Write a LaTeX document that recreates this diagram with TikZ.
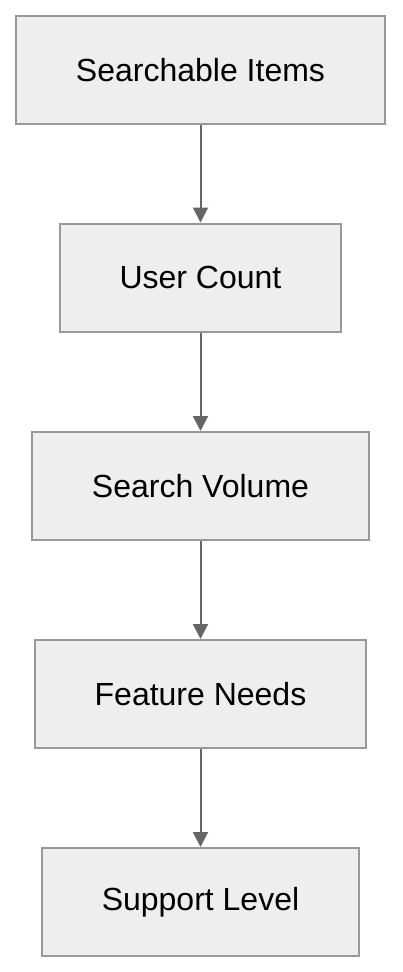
\documentclass[tikz,border=0pt]{standalone}
\usepackage{fontspec}
\setmainfont{Liberation Sans}
\usetikzlibrary{arrows.meta}
\definecolor{boxfill}{HTML}{EEEEEE}
\definecolor{boxline}{HTML}{999999}
\definecolor{arrowc}{HTML}{666666}
\tikzset{
  box/.style={draw=boxline, fill=boxfill, line width=2pt, inner sep=0pt,
    minimum height=108pt, font=\fontsize{32}{38}\selectfont, text=black},
  link/.style={draw=arrowc, line width=2pt, -{Triangle[width=15pt,length=15pt]}}
}
\begin{document}
\begin{tikzpicture}[x=1pt,y=-1pt]
\useasboundingbox (0,0) rectangle (402,972);
\node[box, minimum width=369pt] (a) at (200.5,70) {Searchable Items};
\node[box, minimum width=281pt] (b) at (200.5,277.5) {User Count};
\node[box, minimum width=337pt] (c) at (200.5,486) {Search Volume};
\node[box, minimum width=331pt] (d) at (200.5,694) {Feature Needs};
\node[box, minimum width=317pt] (e) at (200.5,902) {Support Level};
\draw[link] (a) -- (b);
\draw[link] (b) -- (c);
\draw[link] (c) -- (d);
\draw[link] (d) -- (e);
\end{tikzpicture}
\end{document}
